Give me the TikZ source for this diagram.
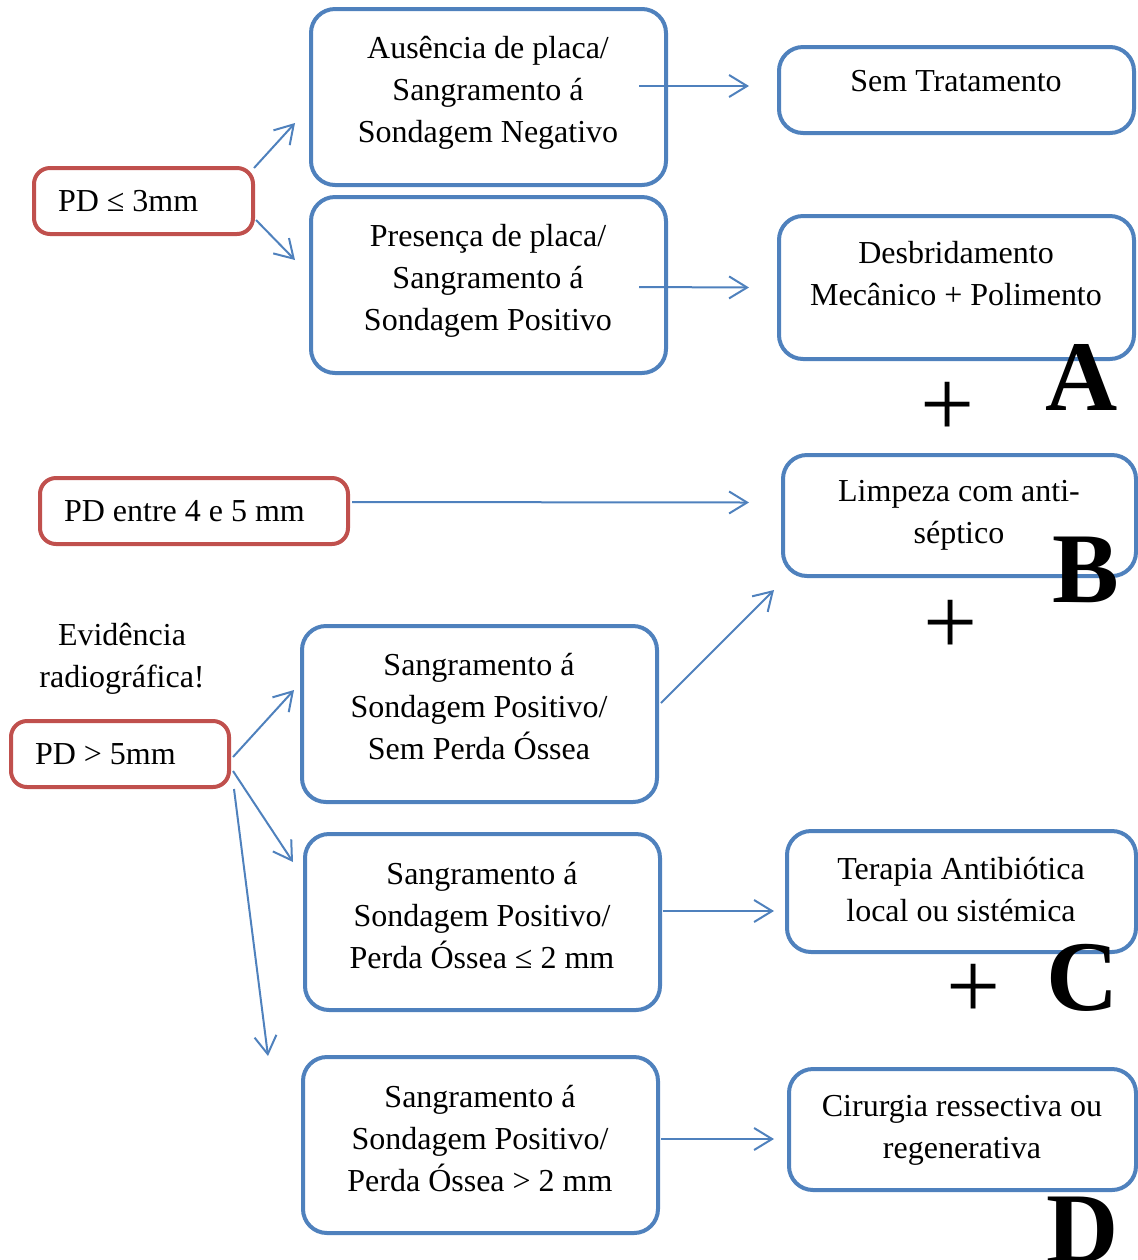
\documentclass[tikz,border=0pt]{standalone}
\usepackage{fontspec}
\setmainfont{Liberation Serif}
\usetikzlibrary{arrows.meta,calc}
\definecolor{boxblue}{HTML}{4F81BD}
\definecolor{boxred}{HTML}{C0504D}
\begin{document}
\begin{tikzpicture}[x=0.5pt,y=-0.5pt,
  bbox/.style={draw=boxblue,line width=2pt,rounded corners=12pt,inner sep=0pt},
  rbox/.style={draw=boxred,line width=2pt,rounded corners=8pt,inner ysep=0pt,inner xsep=12pt,align=flush left,font=\fontsize{16}{21}\selectfont,minimum height=33pt},
  txt/.style={align=center,font=\fontsize{16}{21}\selectfont,inner sep=0pt},
  arr/.style={draw=boxblue,line width=1pt,-{Straight Barb[length=9pt,width=11pt,line width=1pt]}},
  bigletter/.style={font=\fontsize{50}{50}\selectfont\bfseries,inner sep=0pt},
  plussign/.style={font=\fontsize{48}{48}\selectfont,inner sep=0pt}]
\path[use as bounding box] (0,0) rectangle (1138,1260);
\clip (0,0) rectangle (1138,1260);

% left blue boxes
\node[bbox,minimum width=177.5pt,minimum height=88pt] (b1) at (488.5,97) {};
\node[bbox,minimum width=177.5pt,minimum height=88pt] (b2) at (488.5,285) {};
\node[bbox,minimum width=177.5pt,minimum height=88pt] (b3) at (479.5,714) {};
\node[bbox,minimum width=177.5pt,minimum height=88pt] (b4) at (482.5,922) {};
\node[bbox,minimum width=177.5pt,minimum height=88pt] (b5) at (480.5,1145) {};

% right blue boxes
\node[bbox,minimum width=177.5pt,minimum height=43pt] (r1) at (956.5,90) {};
\node[bbox,minimum width=177.5pt,minimum height=71.5pt] (r2) at (956.5,287.5) {};
\node[bbox,minimum width=176.5pt,minimum height=60.5pt] (r3) at (959.5,515.5) {};
\node[bbox,minimum width=174.5pt,minimum height=60.5pt] (r4) at (961.5,891.5) {};
\node[bbox,minimum width=173.5pt,minimum height=60.5pt] (r5) at (962.5,1129.5) {};

% red boxes
\node[rbox,text width=85.5pt] (p1) at (143.5,201) {PD ≤ 3mm};
\node[rbox,text width=130pt] (p2) at (194,511) {PD entre 4 e 5 mm};
\node[rbox,text width=85pt] (p3) at (120,754) {PD > 5mm};

% texts
\node[txt] (t1) at (488,93) {Ausência de placa/\\Sangramento á\\Sondagem Negativo};
\node[txt] (t2) at (488,281) {Presença de placa/\\Sangramento á\\Sondagem Positivo};
\node[txt] (t3) at (479,707) {Sangramento á\\Sondagem Positivo/\\Sem Perda Óssea};
\node[txt] (t4) at (482,916) {Sangramento á\\Sondagem Positivo/\\Perda Óssea ≤ 2 mm};
\node[txt] (t5) at (480,1139) {Sangramento á\\Sondagem Positivo/\\Perda Óssea > 2 mm};
\node[txt] (u1) at (956,81) {Sem Tratamento};
\node[txt] (u2) at (956,274) {Desbridamento\\Mecânico + Polimento};
\node[txt] (u3) at (959,515) {Limpeza com anti-\\séptico};
\node[txt] (u4) at (961,890) {Terapia Antibiótica\\local ou sistémica};
\node[txt] (u5) at (962,1130) {Cirurgia ressectiva ou\\regenerativa};
\node[txt] (ev) at (122,659) {Evidência\\radiográfica!};

% arrows
\draw[arr] ($(p1.north east)+(-1,2)$) -- ($(b1.west)+(-14,26)$);
\draw[arr] ($(p1.east)+(1,19)$) -- ($(b2.west)+(-14,-25)$);
\draw[arr] ($(b1.east)+(-29,-11)$) -- ($(r1.west)+(-28,-4)$);
\draw[arr] ($(b2.east)+(-29,2)$) -- ($(r2.west)+(-28,0)$);
\draw[arr] ($(p2.east)+(2,-9)$) -- ($(r3.west)+(-32,-13)$);
\draw[arr] ($(b3.east)+(2,-11)$) -- ($(r3.south west)+(-7,12)$);
\draw[arr] ($(b4.east)+(1,-11)$) -- ($(r4.west)+(-11,19.5)$);
\draw[arr] ($(b5.east)+(1,-6)$) -- ($(r5.west)+(-13,9.5)$);
\draw[arr] ($(p3.east)+(2,3)$) -- ($(b3.west)+(-6,-24)$);
\draw[arr] ($(p3.east)+(2,17)$) -- ($(b4.west)+(-10,-60)$);
\draw[arr] ($(p3.south east)+(3,0)$) -- ($(b5.north west)+(-33,1)$);

% plus signs and letters
\node[plussign] (plusA) at (948,409) {+};
\node[plussign] (plusB) at (951,627) {+};
\node[plussign] (plusC) at (974,991) {+};
\node[bigletter] (lA) at (1082,377) {A};
\node[bigletter] (lB) at (1086,570) {B};
\node[bigletter] (lC) at (1083,978) {C};
\node[bigletter] (lD) at (1083,1229.5) {D};
\end{tikzpicture}
\end{document}
